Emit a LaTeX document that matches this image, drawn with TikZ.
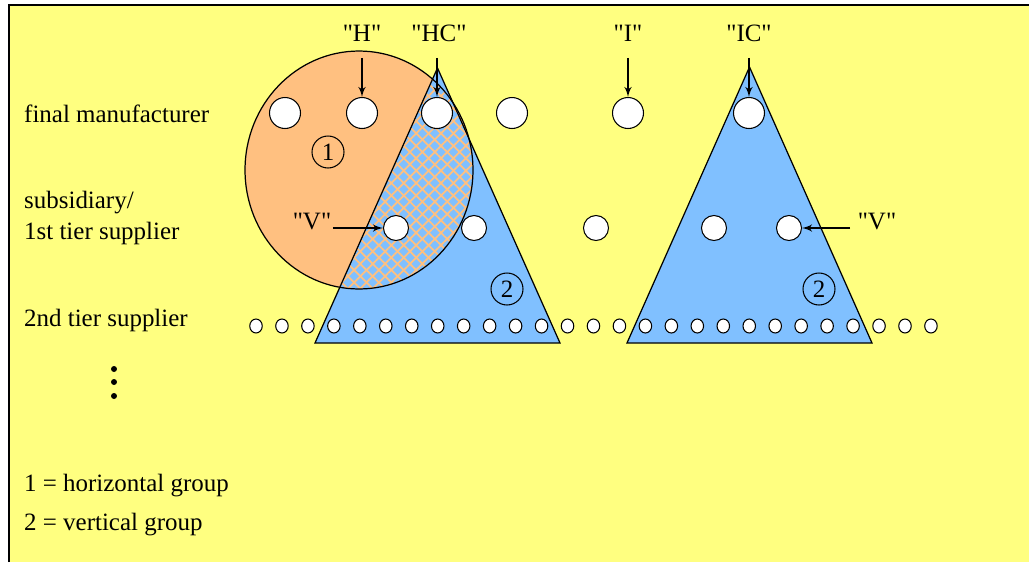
\documentclass[tikz,border=0pt]{standalone}
\usepackage{fontspec}
\setmainfont{Liberation Serif}[Ligatures=TeXOff]
\usetikzlibrary{shapes,arrows,positioning,calc,patterns.meta}
\definecolor{bgyellow}{RGB}{255,255,128}
\definecolor{horzorange}{RGB}{255,192,128}
\definecolor{vertblue}{RGB}{128,192,255}

\begin{document}
\begin{tikzpicture}[x=0.02cm,y=-0.02cm,>=latex',every node/.style={font=\fontsize{14.2}{17.5}\selectfont}]
\tikzset{firm/.style={draw,circle,fill=white,inner sep=0pt,line width=0.6pt,minimum size=0.62cm},
  subfirm/.style={firm,minimum size=0.5cm},
  supfirm/.style={draw,ellipse,fill=white,inner sep=0pt,line width=0.6pt,minimum width=0.25cm,minimum height=0.28cm},
  groupno/.style={draw,circle,inner sep=0pt,line width=0.6pt,minimum size=0.64cm},
  pointer/.style={->,line width=1pt}}
\useasboundingbox (0,0) rectangle (1029,562);
\fill[bgyellow] (9,5) rectangle (1029,562);
\draw[line width=1.6pt] (9,562)--(9,5)--(1029,5);
% horizontal group and first vertical group
\coordinate (topA) at (437.5,68); \coordinate (leftA) at (315,343); \coordinate (rightA) at (560,343);
\coordinate (hcent) at (359,170);
\fill[vertblue] (topA)--(leftA)--(rightA)--cycle;
\fill[horzorange] (hcent) ellipse [x radius=2.28cm,y radius=2.38cm];
\begin{scope}
\clip (hcent) ellipse [x radius=2.28cm,y radius=2.38cm];
\fill[vertblue] (topA)--(leftA)--(rightA)--cycle;
\fill[pattern={Lines[angle=45,distance=5pt,line width=1pt]},pattern color=horzorange] (topA)--(leftA)--(rightA)--cycle;
\fill[pattern={Lines[angle=-45,distance=5pt,line width=1pt]},pattern color=horzorange] (topA)--(leftA)--(rightA)--cycle;
\end{scope}
\draw[line width=0.7pt] (hcent) ellipse [x radius=2.28cm,y radius=2.38cm];
\draw[line width=0.7pt] (topA)--(leftA)--(rightA)--cycle;
% second vertical group
\coordinate (topB) at (749.5,67); \coordinate (leftB) at (627,343); \coordinate (rightB) at (872,343);
\draw[line width=0.7pt,fill=vertblue] (topB)--(leftB)--(rightB)--cycle;
% tier labels
\node[anchor=west](final) at (18,114){final manufacturer};
\node[anchor=west,align=left](first) at (18,218){subsidiary/\\1st tier supplier};
\node[anchor=west](second) at (18,320){2nd tier supplier};
\foreach \d in {369,382,396} \fill (114,\d) circle (0.06cm);
\node[anchor=west](key1) at (18,486){1 = horizontal group};
\node[anchor=west](key2) at (18,525){2 = vertical group};
% firms
\node[firm](f1) at (285,113){}; \node[firm](fH) at (362,113){}; \node[firm](fHC) at (437,113){};
\node[firm](f4) at (512,113){}; \node[firm](fI) at (628,113){}; \node[firm](fIC) at (749,113){};
\node[subfirm](sV) at (396,228){}; \node[subfirm](s2) at (474,228){}; \node[subfirm](s3) at (596,228){};
\node[subfirm](s4) at (714,228){}; \node[subfirm](sVr) at (789,228){};
\foreach \i in {0,...,26} \node[supfirm](t\i) at ({256+25.96*\i},326){};
\node[groupno](g1) at (328,152){1};
\node[groupno](g2a) at (507,289){2};
\node[groupno](g2b) at (819,289){2};
% pointers
\node(lH) at (362,33){"H"}; \node(lHC) at (439,33){"HC"}; \node(lI) at (628,33){"I"}; \node(lIC) at (749,33){"IC"};
\node(lV) at (312,222){"V"}; \node(lVr) at (877,222){"V"};
\draw[pointer] ($(fH.north)+(0,-39)$)--(fH.north);
\draw[pointer] ($(fHC.north)+(0,-39)$)--(fHC.north);
\draw[pointer] ($(fI.north)+(0,-39)$)--(fI.north);
\draw[pointer] ($(fIC.north)+(0,-39)$)--(fIC.north);
\draw[pointer] ($(sV.west)+(-50,0)$)--(sV.west);
\draw[pointer] ($(sVr.east)+(48,0)$)--(sVr.east);
\end{tikzpicture}
\end{document}
